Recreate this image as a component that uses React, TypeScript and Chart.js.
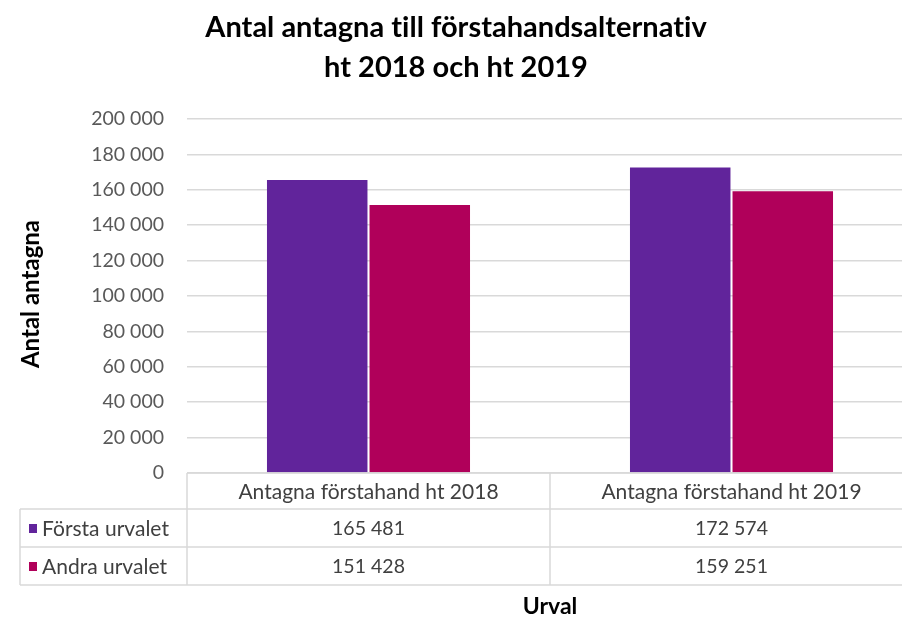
import React, { useEffect, useRef } from "react";
import { Chart, registerables } from "chart.js";

Chart.register(...registerables);

const titleLines = ["Antal antagna till förstahandsalternativ", "ht 2018 och ht 2019"];
const categories = ["Antagna förstahand ht 2018", "Antagna förstahand ht 2019"];
const seriesNames = ["Första urvalet", "Andra urvalet"];
const forstaUrvalet = [165481, 172574];
const andraUrvalet = [151428, 159251];
const seriesColors = ["#61249B", "#B0005A"];
const yMin = 0;
const yMax = 200000;
const yStep = 20000;
const yAxisTitle = "Antal antagna";
const xAxisTitle = "Urval";

const FONT = "Lato, 'Open Sans', sans-serif";
const fmt = (n: number) => String(n).replace(/\B(?=(\d{3})+(?!\d))/g, " ");

const tablePlugin = {
  id: "dataTable",
  afterDraw(chart: any) {
    const ctx = chart.ctx as CanvasRenderingContext2D;
    const { left, right, top, bottom } = chart.chartArea;
    const n = categories.length;
    const colW = (right - left) / n;
    const headerBottom = bottom + 36;
    const row1Bottom = headerBottom + 38;
    const row2Bottom = row1Bottom + 38;
    const tableLeft = 20;
    const grid = "#d9d9d9";
    ctx.save();
    (ctx as any).letterSpacing = "0.01px";
    ctx.strokeStyle = grid;
    ctx.lineWidth = 1.5;
    const line = (x1: number, y1: number, x2: number, y2: number) => {
      ctx.beginPath();
      ctx.moveTo(x1, y1);
      ctx.lineTo(x2, y2);
      ctx.stroke();
    };
    line(left, bottom, right, bottom);
    line(tableLeft, headerBottom, right, headerBottom);
    line(tableLeft, row1Bottom, right, row1Bottom);
    line(tableLeft, row2Bottom, right, row2Bottom);
    line(tableLeft, headerBottom, tableLeft, row2Bottom);
    for (let i = 0; i <= n; i++) {
      const x = left + i * colW;
      line(x, bottom, x, row2Bottom);
    }
    ctx.fillStyle = "#404040";
    ctx.font = `21px ${FONT}`;
    ctx.textAlign = "center";
    ctx.textBaseline = "middle";
    categories.forEach((c, i) => {
      const cx = left + (i + 0.5) * colW;
      ctx.fillText(c, cx, (bottom + headerBottom) / 2 + 1);
    });
    const rows = [forstaUrvalet, andraUrvalet];
    const rowTops = [headerBottom, row1Bottom];
    const rowBottoms = [row1Bottom, row2Bottom];
    rows.forEach((vals, r) => {
      const cy = (rowTops[r] + rowBottoms[r]) / 2 + 1;
      ctx.font = `19.5px ${FONT}`;
      vals.forEach((v, i) => {
        const cx = left + (i + 0.5) * colW;
        ctx.fillStyle = "#404040";
        ctx.textAlign = "center";
        ctx.fillText(fmt(v), cx, cy);
      });
      ctx.fillStyle = seriesColors[r];
      ctx.fillRect(29, cy - 5, 8, 9);
      ctx.fillStyle = "#404040";
      ctx.textAlign = "left";
      ctx.font = `21px ${FONT}`;
      ctx.fillText(seriesNames[r], 42, cy);
    });
    ctx.fillStyle = "#000000";
    ctx.font = `bold 23px ${FONT}`;
    ctx.textAlign = "center";
    ctx.fillText(xAxisTitle, (left + right) / 2, 607);
    ctx.save();
    ctx.translate(31, (top + bottom) / 2 - 2);
    ctx.rotate(-Math.PI / 2);
    ctx.font = `bold 24px ${FONT}`;
    ctx.fillText(yAxisTitle, 0, 0);
    ctx.restore();
    ctx.font = `bold 29px ${FONT}`;
    ctx.fillText(titleLines[0], 456, 28);
    ctx.fillText(titleLines[1], 456, 68);
    ctx.restore();
  },
};

export default function App() {
  const ref = useRef<HTMLCanvasElement>(null);
  useEffect(() => {
    if (!ref.current) return;
    const chart = new Chart(ref.current, {
      type: "bar",
      data: {
        labels: categories,
        datasets: [
          { label: seriesNames[0], data: forstaUrvalet, backgroundColor: seriesColors[0], borderWidth: 0 },
          { label: seriesNames[1], data: andraUrvalet, backgroundColor: seriesColors[1], borderWidth: 0 },
        ],
      },
      options: {
        responsive: false,
        animation: false,
        layout: { padding: { top: 119, bottom: 144, left: 0, right: 1 } },
        plugins: { legend: { display: false }, title: { display: false }, tooltip: { enabled: false } },
        datasets: { bar: { categoryPercentage: 0.565, barPercentage: 0.98 } },
        scales: {
          x: { display: false },
          y: {
            min: yMin,
            max: yMax,
            afterFit(scale: any) {
              scale.width = 187;
            },
            ticks: {
              stepSize: yStep,
              padding: 23,
              color: "#595959",
              font: { family: FONT, size: 19.5 },
              callback: (v: any) => fmt(Number(v)),
            },
            grid: { color: "#d9d9d9", lineWidth: 1.5, drawTicks: false },
            border: { display: false },
          },
        },
      },
      plugins: [tablePlugin],
    });
    return () => chart.destroy();
  }, []);
  return (
    <div style={{ position: "fixed", left: 0, top: 0, width: 902, height: 617, overflow: "hidden", background: "#fff" }}>
      <canvas ref={ref} width={914} height={617} style={{ display: "block" }} />
    </div>
  );
}
